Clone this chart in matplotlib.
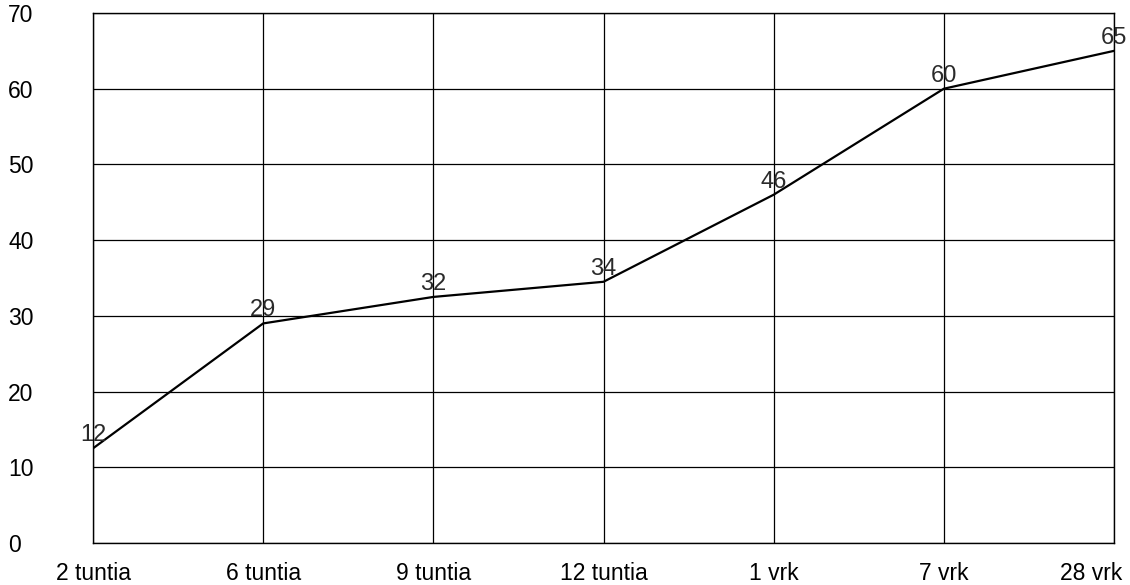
import matplotlib
matplotlib.use("Agg")
import matplotlib.pyplot as plt
import matplotlib.transforms as mtransforms

categories = ["2 tuntia", "6 tuntia", "9 tuntia", "12 tuntia", "1 vrk", "7 vrk", "28 vrk"]
values = [12.5, 29, 32.5, 34.5, 46, 60, 65]
value_labels = ["12", "29", "32", "34", "46", "60", "65"]
y_ticks = [0, 10, 20, 30, 40, 50, 60, 70]

plt.rcParams['font.family'] = ['Liberation Sans', 'DejaVu Sans']

fig = plt.figure(figsize=(11.3, 5.85), dpi=100)
ax = fig.add_axes([93/1130, 1 - 543/585, (1114 - 93)/1130, (543 - 13)/585])

x = list(range(len(categories)))
ax.plot(x, values, color='black', lw=1.6, zorder=3)

for xi, v, lab in zip(x, values, value_labels):
    ax.annotate(lab, (xi, v), xytext=(0, 5), textcoords='offset points',
                ha='center', va='baseline', fontsize=17, color='#2a2a2a', zorder=4)

ax.set_xlim(0, len(categories) - 1)
ax.set_ylim(0, 70)
ax.set_xticks(x)
ax.set_xticklabels(categories)
ax.set_yticks(y_ticks)
ax.set_yticklabels([str(t) for t in y_ticks])

ax.grid(True, color='black', lw=0.9)
ax.set_axisbelow(True)
for s in ax.spines.values():
    s.set_color('black')
    s.set_linewidth(1.0)

ax.tick_params(axis='both', length=0, labelsize=16.5, colors='black')
ax.tick_params(axis='x', pad=14)
ax.tick_params(axis='y', pad=61)
for lab in ax.get_yticklabels():
    lab.set_horizontalalignment('left')

# shift last x label left to keep it within the figure
last = ax.get_xticklabels()[-1]
last.set_transform(last.get_transform() + mtransforms.ScaledTranslation(-23/100, 0, fig.dpi_scale_trans))

fig.savefig("out.png", dpi=100, facecolor='white')
